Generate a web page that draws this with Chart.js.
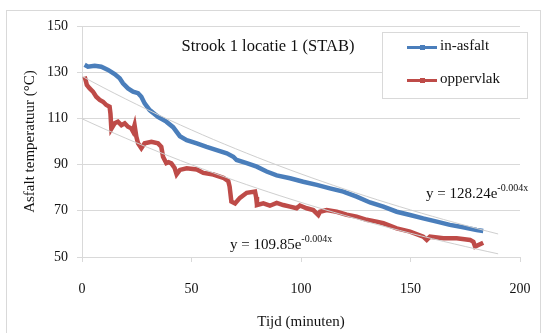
<!DOCTYPE html>
<html>
<head>
<meta charset="utf-8">
<script src="https://cdn.jsdelivr.net/npm/chart.js@4/dist/chart.umd.min.js"></script>
<style>
  html, body { margin: 0; padding: 0; background: #fff; }
</style>
</head>
<body>
<canvas id="cooling-chart" width="547" height="333"></canvas>
<script>
// Tijd (minuten) / temperatuur
let inAsfaltTime = [1.2, 2.7, 5.8, 8.8, 11.9, 14.9, 17.2, 18.7, 21, 23.3, 25.6, 27.1, 28.6, 30.9, 34.7, 38.5, 41.6, 44.7, 47.8, 52.4, 56.9, 61.5, 66.1, 69.1, 70.6, 75.2, 79.8, 84.3, 88.9, 95, 101, 107.2, 113.2, 119.3, 125.4, 131.5, 137.6, 143.7, 149.8, 155.8, 162, 168, 174.1, 180.2, 183.2];
let inAsfaltTemp = [133.2, 132.4, 132.8, 132.4, 131.0, 129.2, 127.4, 125.2, 123.0, 121.6, 120.9, 119.4, 116.5, 113.6, 110.7, 108.6, 106.2, 102.3, 100.6, 99.2, 97.7, 96.3, 94.9, 93.4, 92.0, 90.6, 89.1, 87.0, 85.3, 84.1, 82.6, 81.2, 79.7, 78.3, 76.1, 73.6, 71.8, 69.6, 68.2, 66.7, 65.3, 63.9, 62.9, 61.7, 61.3];

let oppervlakTime = [1.2, 1.8, 2.2, 3.5, 5.0, 6.5, 8.1, 9.6, 11.1, 12.6, 13.0, 13.4, 14.9, 16.4, 18, 19.5, 21, 22.5, 23.2, 24, 24.8, 25.6, 27.1, 28.6, 31.7, 34.7, 36.2, 37, 38.5, 39.5, 40.8, 42.3, 43.2, 44.7, 47.8, 52.4, 55.4, 60, 64.5, 66.8, 67.4, 68.2, 69.9, 72.1, 75.2, 79, 79.5, 79.9, 82.8, 85.8, 88.9, 91.9, 95, 98, 99.5, 102.6, 105.6, 107.9, 108.7, 111.7, 116.3, 120.9, 125.4, 130, 134.5, 137.6, 143.7, 149.8, 155.8, 157.4, 158.9, 165, 171.1, 177.2, 178.7, 179.5, 181, 183.2];
let oppervlakTemp = [128.1, 126, 124.5, 123, 121.6, 119.4, 118, 117.2, 115.8, 115.1, 112, 105.5, 107.9, 108.6, 107.1, 107.9, 106.4, 105.7, 104.5, 107.1, 102.1, 99.2, 97.1, 99.2, 99.9, 99.2, 97.7, 93.4, 90.6, 91, 90.5, 88.5, 85.8, 87.7, 88.4, 87.9, 86.4, 85.7, 84.3, 82.8, 80.5, 74, 73.2, 75.6, 77.8, 78.3, 76, 72.5, 73.2, 72.2, 73.4, 72.5, 71.8, 71.1, 72.3, 71.1, 70.3, 68.2, 69.6, 70.3, 69.6, 68.3, 67.5, 66.1, 65.3, 64.6, 62.4, 61.0, 58.8, 57.4, 58.8, 58.1, 58.1, 57.4, 56.6, 54.5, 55.2, 56.2];

// trendlijnen zoals vermeld in de grafiek: y = a * e^(b x)
let trendInAsfalt = [128.24, -0.004];
let trendOppervlak = [109.85, -0.004];
let trendRange = [0, 190];

let xTicks = [0, 50, 100, 150, 200];
let yTicks = [50, 70, 90, 110, 130, 150];

const serif = "'Liberation Serif', 'DejaVu Serif', serif";
const blue = "#4a7ebb";
const red = "#be4b48";
const gridGray = "#d9d9d9";

function toPoints(xs, ys) {
    return xs.map((x, i) => ({ x: x, y: ys[i] }));
}

function trendPoints(coef) {
    let pts = [];
    for (let x = trendRange[0]; x <= trendRange[1]; x += 5) {
        pts.push({ x: x, y: coef[0] * Math.exp(coef[1] * x) });
    }
    return pts;
}

const extras = {
    id: "extras",
    beforeDraw(chart) {
        let ctx = chart.ctx;
        ctx.save();
        ctx.fillStyle = "#fff";
        ctx.fillRect(0, 0, chart.width, chart.height);
        ctx.strokeStyle = gridGray;
        ctx.lineWidth = 1;
        ctx.strokeRect(6.5, 10.5, 534, 340);
        ctx.restore();
    },
    afterDatasetsDraw(chart) {
        let ctx = chart.ctx;
        ctx.save();

        // titel
        ctx.fillStyle = "#111";
        ctx.font = "16.5px " + serif;
        ctx.textAlign = "center";
        ctx.textBaseline = "middle";
        ctx.fillText("Strook 1 locatie 1 (STAB)", 268, 47);

        // vergelijkingen trendlijnen
        function equation(coef, x, y) {
            ctx.textAlign = "left";
            ctx.textBaseline = "alphabetic";
            ctx.font = "15px " + serif;
            let main = "y = " + coef[0].toFixed(2) + "e";
            ctx.fillText(main, x, y);
            let w = ctx.measureText(main).width;
            ctx.font = "10px " + serif;
            ctx.fillText(coef[1].toFixed(3) + "x", x + w, y - 7);
        }
        equation(trendInAsfalt, 426, 198);
        equation(trendOppervlak, 230, 249);

        // legenda
        let lx = 382.5, ly = 32.5, lw = 145, lh = 66;
        ctx.fillStyle = "#fff";
        ctx.fillRect(lx, ly, lw, lh);
        ctx.strokeStyle = gridGray;
        ctx.lineWidth = 1;
        ctx.strokeRect(lx, ly, lw, lh);
        let rows = [47.5, 80.5];
        [0, 1].forEach((i) => {
            let ds = chart.data.datasets[i];
            let y = rows[i];
            ctx.strokeStyle = ds.borderColor;
            ctx.lineWidth = 3;
            ctx.beginPath();
            ctx.moveTo(407, y);
            ctx.lineTo(437, y);
            ctx.stroke();
            ctx.fillStyle = ds.borderColor;
            ctx.fillRect(420, y - 2.5, 5, 5);
            ctx.fillStyle = "#111";
            ctx.font = "15px " + serif;
            ctx.textAlign = "left";
            ctx.textBaseline = "middle";
            ctx.fillText(ds.label, 440, y - 1);
        });
        ctx.restore();
    }
};

let cooling = new Chart(document.getElementById("cooling-chart").getContext("2d"), {
    type: "line",
    data: {
        datasets: [{
            label: "in-asfalt",
            data: toPoints(inAsfaltTime, inAsfaltTemp),
            borderColor: blue,
            borderWidth: 4.5,
            pointRadius: 0,
            order: 2,
        }, {
            label: "oppervlak",
            data: toPoints(oppervlakTime, oppervlakTemp),
            borderColor: red,
            borderWidth: 4.5,
            pointRadius: 0,
            order: 1,
        }, {
            label: "trend in-asfalt",
            data: trendPoints(trendInAsfalt),
            borderColor: "#cfcfcf",
            borderWidth: 1,
            pointRadius: 0,
            order: 0,
        }, {
            label: "trend oppervlak",
            data: trendPoints(trendOppervlak),
            borderColor: "#cfcfcf",
            borderWidth: 1,
            pointRadius: 0,
            order: 0,
        }],
    },
    options: {
        responsive: false,
        devicePixelRatio: 1,
        animation: false,
        layout: { padding: { top: 26, right: 27, left: 0, bottom: 0 } },
        plugins: {
            legend: { display: false },
            tooltip: { enabled: false },
        },
        scales: {
            x: {
                type: "linear",
                min: 0,
                max: 200,
                afterBuildTicks: (scale) => { scale.ticks = xTicks.map((v) => ({ value: v })); },
                afterFit: (scale) => {
                    scale.height = 76;
                    scale.paddingLeft = 0;
                    scale.paddingRight = 12;
                },
                grid: { drawOnChartArea: false, tickLength: 5, color: gridGray },
                border: { color: gridGray },
                ticks: { color: "#111", font: { family: serif, size: 14 }, padding: 19 },
                title: {
                    display: true,
                    text: "Tijd (minuten)",
                    color: "#111",
                    font: { family: serif, size: 15 },
                    padding: { top: 0, bottom: 2 },
                },
            },
            y: {
                min: 50,
                max: 150,
                afterBuildTicks: (scale) => { scale.ticks = yTicks.map((v) => ({ value: v })); },
                afterFit: (scale) => { scale.width = 82; },
                grid: { tickLength: 5, color: gridGray },
                border: { color: gridGray },
                ticks: { color: "#111", font: { family: serif, size: 14 }, padding: 9 },
                title: {
                    display: true,
                    text: "Asfalt temperatuur (°C)",
                    color: "#111",
                    font: { family: serif, size: 15 },
                    padding: { top: 21, bottom: 0 },
                },
            },
        },
    },
    plugins: [extras],
});
</script>
</body>
</html>
